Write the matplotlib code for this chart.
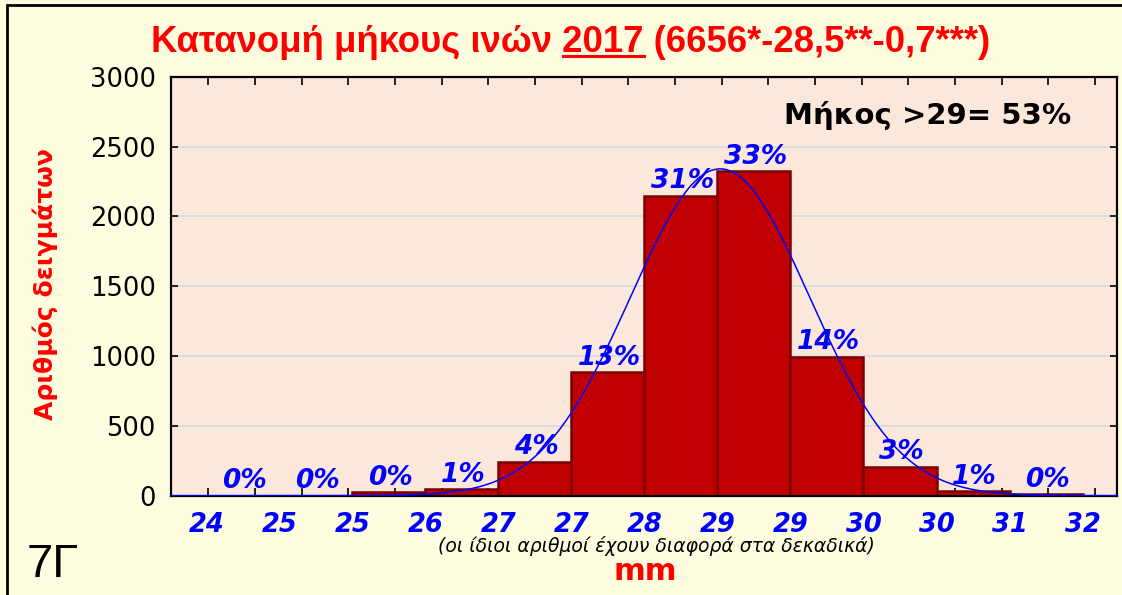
import numpy as np
import matplotlib
matplotlib.use('Agg')
import matplotlib.pyplot as plt
from matplotlib.lines import Line2D
from matplotlib.patches import Rectangle

# bin edges (mm) and the labels shown under them
bin_edges = [24 + i * 2 / 3 for i in range(13)]
edge_labels = ['24', '25', '25', '26', '27', '27', '28', '29', '29', '30', '30', '31', '32']
counts = [0, 0, 24, 48, 243, 884, 2148, 2323, 995, 207, 32, 10]
pct_labels = ['0%', '0%', '0%', '1%', '4%', '13%', '31%', '33%', '14%', '3%', '1%', '0%']

# fitted normal curve
fit_mean = 28.69
fit_sd = 0.82
fit_peak = 2340

title = 'Κατανομή μήκους ινών 2017 (6656*-28,5**-0,7***)'
underlined = 'Κατανομή μήκους ινών 2017'
note = '(οι ίδιοι αριθμοί έχουν διαφορά στα δεκαδικά)'

fig_bg = '#FFFDE0'
plot_bg = '#FCE8DA'
bar_color = '#C00000'
bar_edge = '#7A0000'
blue = '#0000FF'

x_lo, x_hi = 23.676, 32.315

fig = plt.figure(figsize=(11.22, 5.95), dpi=100, facecolor=fig_bg)
ax = fig.add_axes([171 / 1122, 1 - 495.7 / 595, (1117 - 171) / 1122, (495.7 - 76.7) / 595])
ax.set_facecolor(plot_bg)

widths = np.diff(bin_edges)
ax.bar(bin_edges[:-1], counts, width=widths, align='edge', color=bar_color,
       edgecolor=bar_edge, linewidth=1.8, zorder=2)

xs = np.linspace(x_lo, x_hi, 400)
ys = fit_peak * np.exp(-0.5 * ((xs - fit_mean) / fit_sd) ** 2)
ax.plot(xs, ys, color=blue, lw=1.1, zorder=3)

centers = [(a + b) / 2 for a, b in zip(bin_edges[:-1], bin_edges[1:])]
for c, h, p in zip(centers, counts, pct_labels):
    ax.annotate(p, (c, h), xytext=(1, 1), textcoords='offset points',
                ha='center', va='bottom', color=blue, fontsize=19,
                fontweight='bold', fontstyle='italic', family='DejaVu Sans', zorder=4)

ax.set_xlim(x_lo, x_hi)
ax.set_ylim(0, 3000)
ax.set_yticks(range(0, 3001, 500))
ax.yaxis.grid(True, color='#D3DAE2', lw=1.2, zorder=0)
ax.set_axisbelow(True)
ax.tick_params(axis='y', direction='in', length=5, width=1.2, right=True,
               labelsize=18.5, labelcolor='black', pad=11)
for lab in ax.get_yticklabels():
    lab.set_family('DejaVu Sans')

ax.set_xticks(bin_edges, edge_labels)
ax.tick_params(axis='x', which='major', length=0, pad=12, labelsize=18.5, labelcolor=blue)
for lab in ax.get_xticklabels():
    lab.set_fontweight('bold')
    lab.set_fontstyle('italic')
    lab.set_family('DejaVu Sans')
ax.set_xticks([24.016 + k * 0.4262 for k in range(20)], minor=True)
ax.tick_params(axis='x', which='minor', direction='in', length=6, width=1.2, top=True)

for s in ax.spines.values():
    s.set_color('black')
    s.set_linewidth(1.6)

ax.set_ylabel('Αριθμός δειγμάτων', color='#FF0000', fontsize=18, fontweight='bold',
              family='DejaVu Sans')
ax.yaxis.set_label_coords(-0.1195, 0.505)

fig.text(656 / 1122, 1 - 546 / 595, note, ha='center', va='center', fontsize=13.5,
         fontstyle='italic', family='DejaVu Sans')
fig.text(645 / 1122, 1 - 572 / 595, 'mm', ha='center', va='center', fontsize=22,
         fontweight='bold', color='#FF0000', family='DejaVu Sans')
fig.text(27 / 1122, 1 - 565 / 595, '7Γ', ha='left', va='center', fontsize=34,
         family='Liberation Sans')
ax.text(0.952, 0.908, 'Μήκος >29= 53%', transform=ax.transAxes, ha='right', va='center',
        fontsize=21, fontweight='bold', family='DejaVu Sans')

# title with underlined year
tkw = dict(fontsize=26.3, fontweight='bold', color='#FF0000', family='Liberation Sans',
           va='baseline')
ty = 1 - 52 / 595
t = fig.text(571 / 1122, ty, title, ha='center', **tkw)
fig.canvas.draw()
r = fig.canvas.get_renderer()
tmp1 = fig.text(0, ty, underlined, ha='left', **tkw)
tmp2 = fig.text(0, ty, '2017', ha='left', **tkw)
w1 = tmp1.get_window_extent(r).width
w2 = tmp2.get_window_extent(r).width
tmp1.remove()
tmp2.remove()
bb = t.get_window_extent(r)
x_end = bb.x0 + w1
x_start = x_end - w2
uy = ty * 595 - 3.5
fig.add_artist(Line2D([x_start / 1122, x_end / 1122], [uy / 595, uy / 595],
                      color='#FF0000', lw=2.2, transform=fig.transFigure))

# outer frame (left and top edges)
fig.add_artist(Rectangle((6.5 / 1122, -0.1), 1.2, 1.1 - 5.5 / 595, fill=False,
                         edgecolor='black', lw=2, transform=fig.transFigure))

fig.savefig('out.png', dpi=100, facecolor=fig_bg)
